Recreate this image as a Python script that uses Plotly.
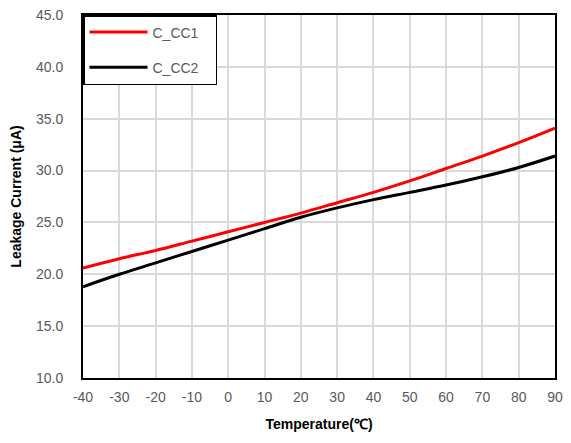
import plotly.graph_objects as go

temps = [-40, -30, -20, -10, 0, 10, 20, 30, 40, 50, 60, 70, 80, 90]
c_cc1 = [20.6, 21.5, 22.3, 23.2, 24.1, 25.0, 25.9, 26.9, 27.9, 29.0, 30.2, 31.4, 32.7, 34.1]
c_cc2 = [18.8, 20.0, 21.1, 22.2, 23.3, 24.4, 25.5, 26.4, 27.2, 27.9, 28.6, 29.4, 30.3, 31.4]
x_ticktext = [str(t) for t in temps]
y_ticks = [10, 15, 20, 25, 30, 35, 40, 45]
y_ticktext = ["%.1f" % v for v in y_ticks]
series_names = ["C_CC1\u00a0\u00a0\u00a0", "C_CC2\u00a0\u00a0\u00a0"]

fig = go.Figure()
fig.add_trace(go.Scatter(x=temps, y=c_cc1, name=series_names[0], mode="lines",
                         line=dict(color="#FF0000", width=3, shape="spline"), legendgroup="a"))
fig.add_trace(go.Scatter(x=temps, y=c_cc2, name=series_names[1], mode="lines",
                         line=dict(color="#000000", width=3, shape="spline"), legendgroup="b"))

fig.update_layout(
    width=563, height=424,
    margin=dict(l=75, r=16, t=7, b=54, autoexpand=False),
    plot_bgcolor="white", paper_bgcolor="white",
    font=dict(family="Liberation Sans, Arial", size=14, color="#595959"),
    showlegend=True,
    legend=dict(x=0, y=1, xanchor="left", yanchor="top",
                bgcolor="white", bordercolor="black", borderwidth=1.5,
                font=dict(size=14, color="#595959"), tracegroupgap=14,
                itemwidth=58),
    xaxis=dict(range=[-40, 90], tickvals=temps, ticktext=x_ticktext, showgrid=True, gridcolor="#D9D9D9",
               gridwidth=1.5, showline=True, linecolor="black", linewidth=2, mirror=True,
               ticks="", zeroline=False, automargin=True, ticklabeloverflow="allow",
               ticklabelstandoff=5,
               title=dict(text="<b>Temperature(℃)</b>", font=dict(size=14, color="black"), standoff=16)),
    yaxis=dict(range=[10, 45], tickvals=y_ticks, ticktext=y_ticktext, showgrid=True, gridcolor="#D9D9D9",
               gridwidth=1.5, showline=True, linecolor="black", linewidth=2, mirror=True,
               ticks="", zeroline=False, automargin=False, ticklabelstandoff=15,
               ticklabeloverflow="allow",
               title=dict(text="<b>Leakage Current (μA)</b>", font=dict(size=14, color="black"))),
)

fig.write_html("out.html")
